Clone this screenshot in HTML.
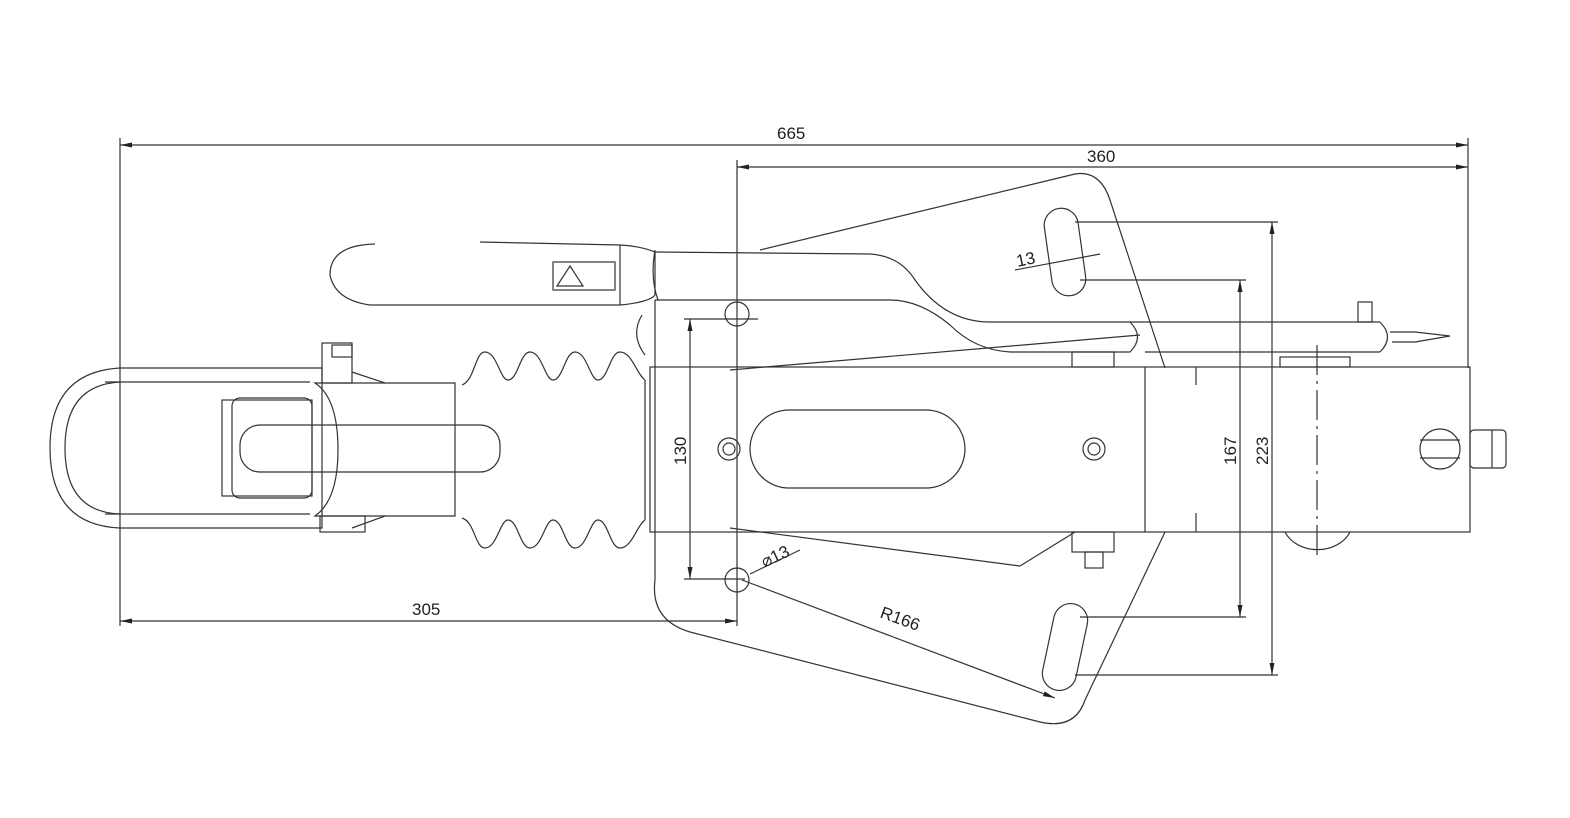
<!DOCTYPE html>
<html><head><meta charset="utf-8"><style>
html,body{margin:0;padding:0;background:#fff;}
svg{display:block;}
text{font-family:"Liberation Sans",sans-serif;font-size:17px;fill:#222;}
</style></head><body>
<svg width="1570" height="818" viewBox="0 0 1570 818" xmlns="http://www.w3.org/2000/svg">
<defs>
<marker id="a" markerWidth="12" markerHeight="6" refX="12" refY="3" orient="auto-start-reverse" markerUnits="userSpaceOnUse"><path d="M0,0.5 L12,3 L0,5.5z" fill="#222"/></marker>
</defs>
<g fill="none" stroke="#333" stroke-width="1.2">
<line x1="120" y1="138" x2="120" y2="626"/>
<line x1="1468" y1="138" x2="1468" y2="368"/>
<line x1="737" y1="160" x2="737" y2="626"/>
<line x1="120" y1="145" x2="1468" y2="145" marker-start="url(#a)" marker-end="url(#a)"/>
<line x1="737" y1="167" x2="1468" y2="167" marker-start="url(#a)" marker-end="url(#a)"/>
<line x1="120" y1="621" x2="737" y2="621" marker-start="url(#a)" marker-end="url(#a)"/>
<line x1="690" y1="319" x2="690" y2="579" marker-start="url(#a)" marker-end="url(#a)"/>
<line x1="684" y1="319" x2="758" y2="319"/><line x1="684" y1="579" x2="745" y2="579"/>
<line x1="1240" y1="280" x2="1240" y2="617" marker-start="url(#a)" marker-end="url(#a)"/>
<line x1="1272" y1="222" x2="1272" y2="675" marker-start="url(#a)" marker-end="url(#a)"/>
<line x1="1080" y1="280" x2="1246" y2="280"/><line x1="1080" y1="617" x2="1246" y2="617"/>
<line x1="1075" y1="222" x2="1278" y2="222"/><line x1="1075" y1="675" x2="1278" y2="675"/>
<line x1="1015" y1="270" x2="1100" y2="254"/>
<line x1="750" y1="574" x2="800" y2="550"/>
<line x1="742" y1="580" x2="1055" y2="698" marker-end="url(#a)"/>
<!-- plate -->
<path d="M760,250 L1075,174 Q1100,170 1110,200 L1165,368"/>
<path d="M655,580 Q650,620 690,632 L1040,722 Q1075,730 1085,700 L1165,532"/>
<line x1="655" y1="300" x2="655" y2="580"/>
<line x1="730" y1="370" x2="1140" y2="335"/>
<line x1="730" y1="528" x2="1020" y2="566"/><line x1="1020" y1="566" x2="1075" y2="532"/>
<rect x="1048" y="208" width="34" height="88" rx="17" transform="rotate(-8 1065 252)"/>
<rect x="1048" y="603" width="34" height="88" rx="17" transform="rotate(12 1065 647)"/>
<circle cx="737" cy="314" r="12"/><circle cx="737" cy="580" r="12"/>
<!-- main tube -->
<rect x="650" y="367" width="820" height="165"/>
<line x1="1145" y1="367" x2="1145" y2="532"/>
<line x1="1196" y1="367" x2="1196" y2="385"/><line x1="1196" y1="513" x2="1196" y2="532"/>
<line x1="1317" y1="345" x2="1317" y2="555" stroke-dasharray="30,6,3,6"/>
<path d="M1285,532 A35,28 0 0 0 1350,532"/>
<rect x="750" y="410" width="215" height="78" rx="39"/>
<circle cx="729" cy="449" r="11"/><circle cx="729" cy="449" r="6"/>
<circle cx="1094" cy="449" r="11"/><circle cx="1094" cy="449" r="6"/>
<circle cx="1440" cy="449" r="20"/><line x1="1420" y1="440" x2="1460" y2="440"/><line x1="1420" y1="458" x2="1460" y2="458"/>
<rect x="1470" y="430" width="36" height="38" rx="4"/><line x1="1492" y1="430" x2="1492" y2="468"/>
<!-- handle bar -->
<path d="M655,252 L870,254 Q900,256 915,280 Q945,322 990,322 L1130,322 Q1145,337 1130,352 L1010,352 Q975,350 950,325 Q920,300 890,300 L655,300"/>
<line x1="1130" y1="322" x2="1380" y2="322"/>
<line x1="1145" y1="352" x2="1380" y2="352"/>
<path d="M1380,322 Q1395,337 1380,352"/>
<rect x="1358" y="302" width="14" height="20"/>
<path d="M1390,332 L1415,332 L1450,336 L1415,342 L1392,342"/>
<rect x="1280" y="357" width="70" height="10"/>
<rect x="1072" y="352" width="42" height="15"/>
<rect x="1072" y="532" width="42" height="20"/><rect x="1085" y="552" width="18" height="16"/>
<!-- handle -->
<path d="M375,244 Q330,245 330,275 Q335,300 370,305 L620,305 Q650,302 655,295 L655,252 Q640,246 620,245 L480,242"/>
<line x1="620" y1="245" x2="620" y2="305"/>
<path d="M655,250 Q650,278 658,300"/>
<rect x="553" y="262" width="62" height="28"/>
<path d="M557,286 L570,266 L583,286z"/>
<path d="M642,315 Q630,335 645,355"/>
<!-- bellows -->
<path d="M462,385 C475,380 475,352 485,352 C497,352 500,380 508,380 C518,380 520,352 530,352 C542,352 545,380 553,380 C563,380 565,352 575,352 C587,352 590,380 598,380 C608,380 610,352 620,352 C632,352 637,375 645,380"/>
<path d="M462,518 C475,522 475,548 485,548 C497,548 500,520 508,520 C518,520 520,548 530,548 C542,548 545,520 553,520 C563,520 565,548 575,548 C587,548 590,520 598,520 C608,520 610,548 620,548 C632,548 637,525 645,520"/>
<line x1="645" y1="380" x2="645" y2="520"/>
<!-- coupling head -->
<path d="M120,368 Q50,372 50,448 Q50,525 120,528 L322,528 L322,368z"/>
<path d="M120,382 Q65,385 65,448 Q65,512 120,514"/>
<line x1="105" y1="382" x2="310" y2="382"/><line x1="105" y1="514" x2="310" y2="514"/>
<path d="M315,383 L455,383 L455,516 L315,516 Q338,500 338,450 Q338,398 315,383z"/>
<rect x="232" y="398" width="80" height="100" rx="8"/>
<rect x="222" y="400" width="90" height="96"/>
<rect x="240" y="425" width="260" height="47" rx="20"/>
<rect x="322" y="343" width="30" height="40"/><rect x="332" y="345" width="20" height="12"/>
<rect x="320" y="516" width="45" height="16"/>
<path d="M352,372 L385,383 M352,528 L385,516"/>
</g>
<g>
<text x="777" y="139">665</text>
<text x="1087" y="162">360</text>
<text x="412" y="615">305</text>
<text x="1016" y="265" transform="rotate(-12 1026 258)">13</text>
<text x="760" y="562" transform="rotate(-25 775 555)">⌀13</text>
<text x="876" y="625" transform="rotate(20 900 630)">R166</text>
<text transform="translate(686,465) rotate(-90)">130</text>
<text transform="translate(1236,465) rotate(-90)">167</text>
<text transform="translate(1268,465) rotate(-90)">223</text>
</g>
</svg>
</body></html>
